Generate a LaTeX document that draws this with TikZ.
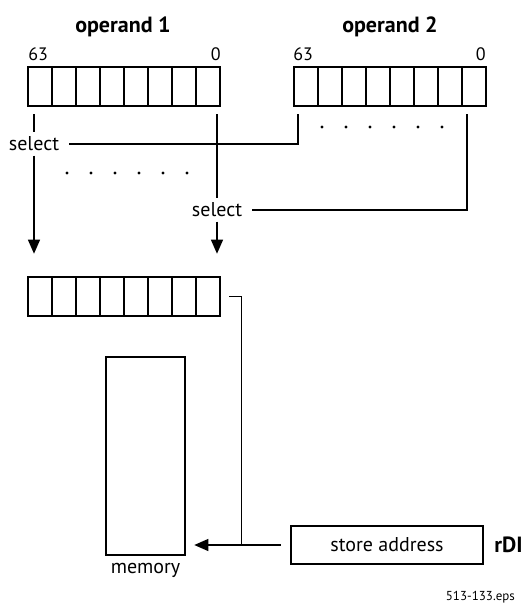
\documentclass[tikz,border=0pt]{standalone}
\usepackage{fontspec}
\setmainfont{PT Sans}
\usetikzlibrary{arrows.meta,positioning,calc}

\begin{document}
\begin{tikzpicture}[x=0.5pt, y=-0.5pt, every node/.style={font=\fontsize{10}{12}\selectfont},
  cell/.style={draw, line width=1.3pt, minimum width=12pt, minimum height=19.5pt, inner sep=0pt},
  wire/.style={line width=0.6pt},
  tip/.style={wire, -{Triangle[width=6pt,length=7pt]}},
  title/.style={font=\fontsize{11}{13}\selectfont\bfseries},
  bitnum/.style={font=\fontsize{9}{11}\selectfont, inner sep=0pt},
  dot/.style={circle, fill, inner sep=0pt, minimum size=1.6pt}]
  \useasboundingbox (0,0) rectangle (524,612);

  % Operand registers and result register
  \foreach \i in {1,...,8} {
    \node[cell] (a\i) at (16+24*\i,86.5) {};
    \node[cell] (b\i) at (282+24*\i,86.5) {};
    \node[cell] (r\i) at (16+24*\i,296.5) {};
  }

  % Titles and bit numbers
  \node[title] (op1) at (123,27) {operand 1};
  \node[title] (op2) at (390,27) {operand 2};
  \node[bitnum, anchor=south west] (a63) at (28,61) {63};
  \node[bitnum, anchor=south east] (a0) at (221,61) {0};
  \node[bitnum, anchor=south west] (b63) at (293,61) {63};
  \node[bitnum, anchor=south east] (b0) at (486,61) {0};

  % Dots
  \foreach \k in {0,...,5} {
    \node[dot] (da\k) at (67+24*\k,173) {};
    \node[dot] (db\k) at (322+24*\k,127) {};
  }

  % Select taps
  \coordinate (t1) at ($(a1.south)+(-6,7)$);
  \coordinate (t2) at ($(b1.south)+(-8,7)$);
  \coordinate (t3) at ($(a8.south)+(9,7)$);
  \coordinate (t4) at ($(b8.south)+(-7,7)$);
  \node[inner sep=2pt] (sel1) at (34,144) {select};
  \node[inner sep=2pt] (sel2) at (217,210) {select};

  \draw[wire] (t1) -- (sel1.north);
  \draw[wire] ([xshift=3pt]sel1.east) -| (t2);
  \draw[wire] (t3) -- (sel2.north);
  \draw[wire] ([xshift=3pt]sel2.east) -| (t4);
  \draw[tip] (sel1.south) -- ($(r1.north)+(-6,-22)$);
  \draw[tip] (sel2.south) -- ($(r8.north)+(9,-22)$);

  % Memory and store address
  \node[draw, line width=1.3pt, minimum width=39.5pt, minimum height=99pt] (mem) at (145.5,456) {};
  \node[below=0pt of mem] (memlbl) {memory};
  \node[draw, line width=1.3pt, minimum width=96pt, minimum height=19pt] (st) at (387,545) {store address};
  \node[right=1.5pt of st, font=\fontsize{11}{13}\selectfont\bfseries] (rdi) {rDI};
  \node[anchor=east, font=\fontsize{6.5}{8}\selectfont] (fname) at (522,597) {513-133.eps};

  \coordinate (rout) at ($(r8.east)+(8,0)$);
  \coordinate (drop) at ($(rout)+(12,0)$);
  \draw[wire] (rout) -- (drop) -- (drop |- st.west);
  \draw[tip] ([xshift=-4.5pt]st.west) -- ($(mem.east |- st.west)+(8,0)$);
\end{tikzpicture}
\end{document}
